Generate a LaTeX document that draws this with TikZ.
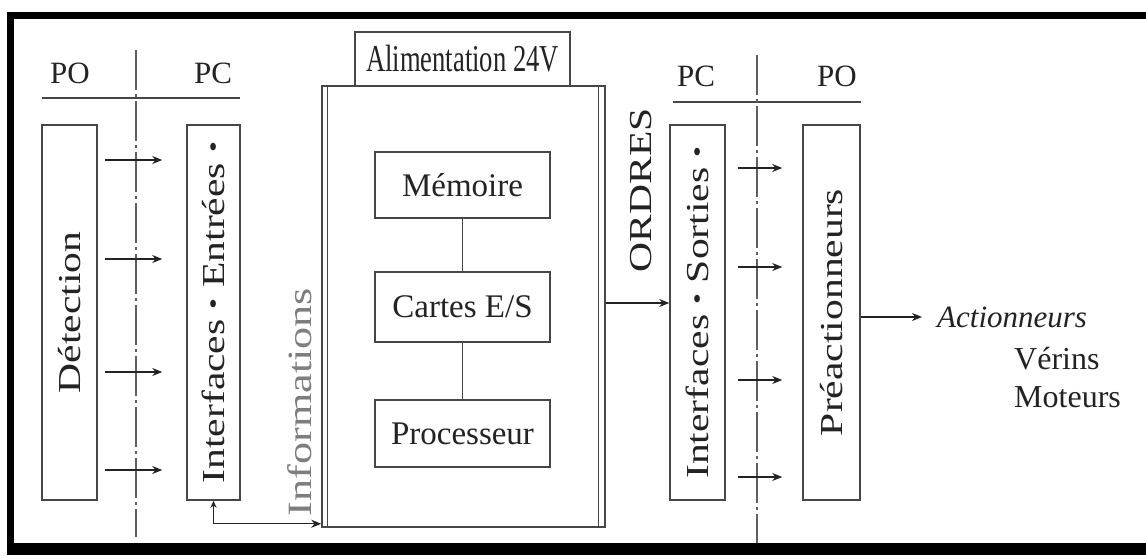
\documentclass[tikz,border=0pt]{standalone}
\usepackage{fontspec}
\setmainfont{Liberation Serif}
\newfontfamily\vertfont[FakeStretch=1.3]{Liberation Serif}
\newfontfamily\condfont[FakeStretch=0.7]{Liberation Serif}
\usepackage{tikz}
\usetikzlibrary{arrows.meta, positioning, calc}
\definecolor{inkgray}{RGB}{35, 35, 35}
\definecolor{linegray}{RGB}{70, 70, 70}
\definecolor{axisgray}{RGB}{95, 95, 95}
\definecolor{infogray}{RGB}{125, 125, 125}
\newcommand{\sepdot}{\raisebox{3pt}{\fontsize{24}{24}\selectfont •}}
\tikzset{
  >=Stealth,
  sigarrow/.style={-{Stealth[length=10pt, width=8pt]}, line width=1.2pt, inkgray},
  sigboth/.style={{Stealth[length=7pt, width=6pt]}-{Stealth[length=10pt, width=8pt]}, line width=1.2pt, inkgray},
  axisline/.style={line width=1.2pt, axisgray, dash pattern=on 40pt off 4pt on 3pt off 4pt},
  frameline/.style={line width=7pt, black}
}

\begin{document}
\begin{tikzpicture}[x=1pt, y=-1pt,
    colbox/.style={rectangle, draw=linegray, line width=1.5pt, minimum width=55pt, minimum height=375pt, inner sep=0pt},
    cardbox/.style={rectangle, draw=linegray, line width=1.5pt, minimum width=175pt, inner sep=0pt, font=\fontsize{33}{38}\selectfont, text=inkgray},
    vtext/.style={rotate=90, font=\vertfont\fontsize{32}{36}\selectfont, text=inkgray, inner sep=0pt},
    headtext/.style={font=\fontsize{31}{35}\selectfont, text=inkgray, inner sep=0pt},
    outtext/.style={font=\fontsize{32}{36}\selectfont, text=inkgray, inner sep=0pt}
]
    \useasboundingbox[fill=white] (0,0) rectangle (1146,555);

    % Frame
    \draw[frameline] (1146,15) -- (10.5,15) -- (10.5,555);
    \draw[frameline, line width=12pt] (7,549) -- (1146,549);

    % Left side: PO | PC
    \node[headtext] (po1) at (70,73) {PO};
    \node[headtext] (pc1) at (213,73) {PC};
    \draw[line width=1.4pt, linegray] (42,98) -- (240,98);
    \draw[axisline] (136,50) -- (136,537);

    \node[colbox] (det) at (69.5,312.5) {};
    \node[vtext] at (det.center) {Détection};
    \node[colbox, minimum width=53pt] (ein) at (213.5,312.5) {};
    \node[vtext] at (ein.center) {Interfaces \sepdot{} Entrées \sepdot};

    \foreach \y in {160,259,372,470}
        \draw[sigarrow, shorten <=7pt, shorten >=24pt] (det.east |- 0,\y) -- (ein.west |- 0,\y);

    % Automate
    \node[rectangle, draw=linegray, line width=1.5pt, minimum width=215pt, minimum height=54pt, inner sep=0pt] (alim) at (462.5,59) {};
    \node[font=\condfont\fontsize{38}{42}\selectfont, text=inkgray, inner sep=0pt] at (alim.center) {Alimentation 24V};

    \node[rectangle, draw=linegray, line width=1.5pt, minimum width=283pt, minimum height=441pt, inner sep=0pt] (cpu) at (463.5,306.5) {};
    \draw[line width=1.4pt, linegray] ([xshift=6pt]cpu.north west) -- ([xshift=6pt]cpu.south west);
    \draw[line width=1.4pt, linegray] ([xshift=-7pt]cpu.north east) -- ([xshift=-7pt]cpu.south east);

    \node[cardbox, minimum height=66pt] (mem) at (462.5,185) {Mémoire};
    \node[cardbox, minimum height=70pt] (es) at (462.5,307) {Cartes E/S};
    \node[cardbox, minimum height=67pt] (proc) at (462.5,433.5) {Processeur};
    \draw[line width=1.4pt, linegray] (mem) -- (es);
    \draw[line width=1.4pt, linegray] (es) -- (proc);

    \node[vtext, font=\vertfont\fontsize{34}{38}\selectfont, text=infogray] (info) at (300,402) {Informations};
    \draw[sigboth] (ein.south) |- ([yshift=4pt]cpu.south west);

    % Right side: PC | PO
    \node[headtext] (pc2) at (696,76) {PC};
    \node[headtext] (po2) at (837,76) {PO};
    \draw[line width=1.4pt, linegray] (673,102) -- (861,102);
    \draw[axisline] (757,55) -- (757,543);

    \node[colbox] (sor) at (697.5,312.5) {};
    \node[vtext] at (sor.center) {Interfaces \sepdot{} Sorties \sepdot};
    \node[colbox, minimum width=57pt] (pre) at (831.5,312.5) {};
    \node[vtext] at (pre.center) {Préactionneurs};

    \node[vtext] (ordres) at (641,190) {ORDRES};
    \draw[sigarrow] (cpu.east |- 0,303) -- (sor.west |- 0,303);

    \foreach \y in {168,267,380,477}
        \draw[sigarrow, shorten <=12pt, shorten >=20pt] (sor.east |- 0,\y) -- (pre.west |- 0,\y);

    % Actionneurs
    \node[outtext, anchor=west, inner xsep=15pt, font=\itshape\fontsize{31}{35}\selectfont] (act) at (922,317) {Actionneurs};
    \draw[sigarrow] (pre.east |- act.west) -- (act.west);
    \node[outtext, anchor=base west] (verins) at (1014,369) {Vérins};
    \node[outtext, anchor=base west] (moteurs) at (1014,407) {Moteurs};
\end{tikzpicture}
\end{document}
